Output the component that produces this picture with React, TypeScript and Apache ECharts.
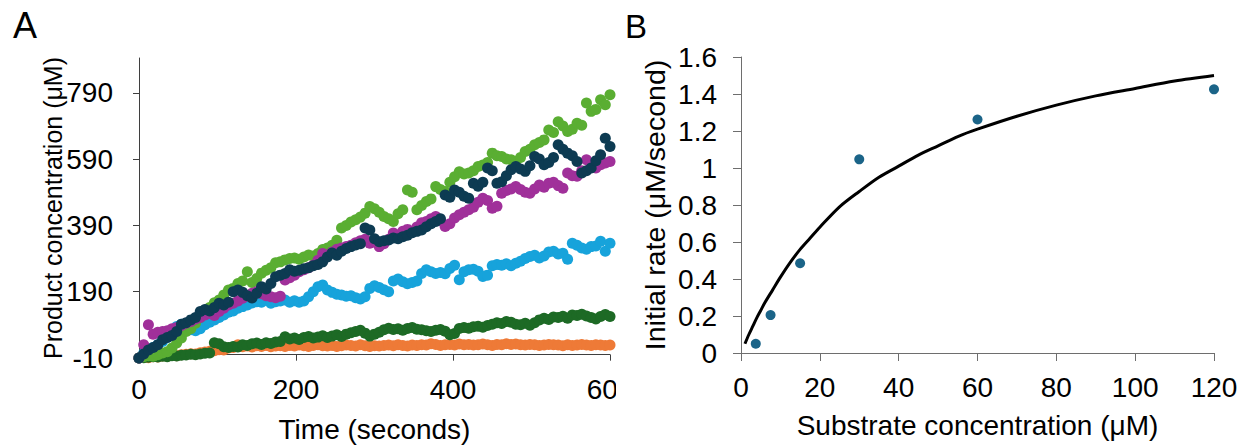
import React, { useEffect, useRef } from "react";
import * as echarts from "echarts";

// ---------- Panel A data (time in seconds, product in µM) ----------
const timeSeconds: number[] = Array.from({ length: 101 }, (_, i) => i * 6);

const orangeSeries = [
  -10, -8, -9, -6, -7, -4, -5, -2, -3, 0,
  1, 3, 2, 6, 8, 10, 12, 15, 14, 20,
  22, 30, 24, 26, 23, 27, 25, 28, 24, 26,
  27, 25, 28, 26, 29, 27, 25, 28, 30, 27,
  26, 28, 25, 27, 29, 28, 26, 30, 27, 25,
  27, 26, 28, 29, 27, 30, 28, 26, 29, 28,
  30, 29, 33, 31, 28, 30, 31, 29, 32, 30,
  31, 29, 30, 32, 30, 28, 31, 30, 33, 31,
  32, 30, 29, 31, 30, 28, 29, 31, 30, 29,
  27, 30, 28, 29, 31, 29, 28, 30, 29, 28,
  29,
];

const darkGreenSeries = [
  -10, -9, -8, -6, -7, -5, -6, -3, -4, -2,
  -1, 1, 0, 2, 4, 5, 36, 33, 24, 22,
  25, 23, 30, 28, 33, 35, 31, 36, 34, 38,
  40, 54, 47, 50, 46, 52, 55, 50, 53, 57,
  52, 56, 60, 55, 62, 66, 70, 74, 65, 56,
  62, 68, 75, 80, 76, 78, 74, 79, 82, 77,
  75, 72, 70, 74, 76, 71, 60, 64, 79, 82,
  80, 84, 86, 83, 88, 92, 96, 94, 100, 98,
  92, 90, 95, 89, 96, 105, 110, 106, 114, 112,
  116, 110, 120, 118, 122, 117, 112, 108, 115, 121,
  115,
];

const cyanSeries = [
  -10, 4, 12, 22, 30, 40, 52, 70, 85, 92,
  80, 75, 72, 78, 90, 98, 105, 112, 120, 128,
  132, 140, 145, 150, 156, 160, 158, 164, 155, 160,
  162, 165, 158, 163, 158, 162, 175, 190, 205, 210,
  195, 188, 182, 180, 176, 178, 172, 168, 175, 200,
  208, 203, 196, 190, 222, 228, 220, 214, 218, 222,
  245, 256, 250, 245, 248, 244, 260, 270, 226, 250,
  256, 258, 252, 236, 240, 268, 272, 270, 274, 268,
  276, 282, 290, 296, 300, 292, 298, 310, 312, 304,
  306, 288, 336, 330, 322, 318, 326, 328, 342, 312,
  336,
];

const purpleSeries = [
  -10, 30, 90, 62, 68, 70, 72, 78, 82, 88,
  95, 100, 108, 112, 120, 125, 118, 130, 140, 150,
  155, 162, 170, 178, 185, 190, 184, 178, 175, 172,
  176, 225, 232, 240, 250, 256, 262, 270, 285, 305,
  300, 310, 318, 322, 326, 330, 338, 344, 348, 336,
  340, 326, 335, 348, 367, 360, 372, 378, 370, 385,
  398, 402, 410, 417, 405, 387, 395, 412, 422, 430,
  437, 445, 460, 472, 465, 442, 448, 487, 495, 500,
  507, 498, 490, 487, 500, 512, 505, 517, 520, 510,
  502, 548, 540, 538, 555, 588, 570, 563, 573, 578,
  583,
];

const navySeries = [
  -10, 2, 14, 22, 30, 45, 52, 58, 70, 92,
  96, 105, 112, 130, 136, 132, 142, 155, 150, 158,
  190, 195, 188, 178, 171, 185, 205, 198, 215, 235,
  240, 245, 256, 252, 255, 259, 262, 268, 272, 280,
  295, 307, 300, 312, 320, 326, 331, 335, 382, 376,
  350, 341, 344, 346, 352, 350, 356, 360, 368, 372,
  376, 386, 395, 402, 410, 482, 475, 497, 490, 478,
  472, 517, 508, 520, 563, 555, 517, 522, 540, 558,
  568, 560, 553, 570, 598, 590, 573, 580, 595, 633,
  620, 608, 600, 583, 548, 555, 563, 585, 603, 653,
  628,
];

const greenSeries = [
  -10, -6, -3, -5, 0, 5, 9, 20, 35, 50,
  70, 78, 95, 112, 130, 142, 157, 165, 180, 195,
  200, 215, 222, 250, 218, 230, 246, 255, 262, 277,
  280, 286, 290, 292, 288, 295, 301, 298, 305, 317,
  322, 330, 345, 382, 390, 400, 407, 415, 427, 447,
  440, 430, 417, 410, 402, 425, 437, 497, 490, 437,
  450, 462, 470, 507, 498, 492, 520, 537, 552, 545,
  548, 555, 568, 572, 580, 608, 600, 598, 590, 588,
  583, 595, 613, 620, 633, 640, 648, 678, 670, 703,
  690, 673, 680, 698, 692, 759, 734, 740, 769, 754,
  784,
];

const yTicksA = [-10, 190, 390, 590, 790];

// ---------- Panel B data ----------
const substrateConc = [3.75, 7.5, 15, 30, 60, 120];
const initialRate = [0.05, 0.205, 0.485, 1.047, 1.262, 1.425];

const fitX = [1, 2, 3, 4, 5, 6, 8, 10, 12.5, 15, 17.5, 20, 25, 30, 35, 40, 45, 50, 55, 60, 70, 80, 90, 100, 110, 120];
const fitY = [0.05, 0.1, 0.145, 0.19, 0.23, 0.27, 0.34, 0.41, 0.49, 0.56, 0.62, 0.68, 0.79, 0.873, 0.95, 1.01, 1.07, 1.12, 1.17, 1.21, 1.28, 1.34, 1.39, 1.43, 1.47, 1.5];

const FONT = "'Liberation Sans', Arial, Helvetica, sans-serif";

const pair = (xs: number[], ys: number[]) => xs.map((x, i) => [x, ys[i]]);

function PanelA() {
  const ref = useRef<HTMLDivElement>(null);
  useEffect(() => {
    if (!ref.current) return;
    const chart = echarts.init(ref.current, undefined, { renderer: "svg" });
    const axisColor = "#3f3f3f";
    const mk = (name: string, data: number[], color: string) => ({
      type: "scatter",
      name,
      data: pair(timeSeconds, data),
      symbolSize: 11,
      itemStyle: { color, opacity: 1 },
      silent: true,
    });
    chart.setOption({
      animation: false,
      backgroundColor: "#ffffff",
      graphic: [
        {
          type: "text",
          left: 13,
          top: 7,
          style: { text: "A", fontSize: 36, fontFamily: FONT, fill: "#000" },
        },
      ],
      grid: { left: 139, right: 6, top: 58, bottom: 88, outerBoundsMode: "none", containLabel: false },
      xAxis: {
        type: "value",
        min: 0,
        max: 600,
        interval: 200,
        name: "Time (seconds)",
        nameLocation: "middle",
        nameGap: 57,
        nameMoveOverlap: false,
        nameTextStyle: { fontSize: 28, fontFamily: FONT, color: "#000" },
        axisLine: { show: true, lineStyle: { color: axisColor, width: 1 } },
        axisTick: { show: true, length: 6, lineStyle: { color: axisColor } },
        axisLabel: { fontSize: 28, fontFamily: FONT, color: "#000", margin: 17, hideOverlap: false },
        splitLine: { show: false },
      },
      yAxis: {
        type: "value",
        min: -10,
        max: 895,
        name: "Product concentration (μM)",
        nameLocation: "middle",
        nameGap: 74,
        nameMoveOverlap: false,
        nameTextStyle: { fontSize: 25, fontFamily: FONT, color: "#000" },
        axisLine: { show: true, lineStyle: { color: axisColor, width: 1 } },
        axisTick: { show: true, length: 6, customValues: yTicksA, lineStyle: { color: axisColor } },
        axisLabel: { fontSize: 28, fontFamily: FONT, color: "#000", margin: 26, customValues: yTicksA },
        splitLine: { show: false },
      },
      series: [
        mk("orange", orangeSeries, "#EE7A37"),
        mk("darkgreen", darkGreenSeries, "#1D6A25"),
        mk("cyan", cyanSeries, "#17A3DB"),
        mk("green", greenSeries, "#5AAE32"),
        mk("purple", purpleSeries, "#A0309A"),
        mk("navy", navySeries, "#0D3B52"),
      ],
    });
    return () => chart.dispose();
  }, []);
  return <div ref={ref} style={{ position: "absolute", left: 0, top: 0, width: 616, height: 446 }} />;
}

function PanelB() {
  const ref = useRef<HTMLDivElement>(null);
  useEffect(() => {
    if (!ref.current) return;
    const chart = echarts.init(ref.current, undefined, { renderer: "svg" });
    const axisColor = "#6e6e6e";
    chart.setOption({
      animation: false,
      backgroundColor: "#ffffff",
      graphic: [
        {
          type: "text",
          left: 9,
          top: 10,
          style: { text: "B", fontSize: 33, fontFamily: FONT, fill: "#000" },
        },
      ],
      grid: { left: 125, right: 38, top: 57, bottom: 93, outerBoundsMode: "none", containLabel: false },
      xAxis: {
        type: "value",
        min: 0,
        max: 120,
        interval: 20,
        name: "Substrate concentration (μM)",
        nameLocation: "middle",
        nameGap: 58,
        nameMoveOverlap: false,
        nameTextStyle: { fontSize: 28, fontFamily: FONT, color: "#000" },
        axisLine: { show: true, lineStyle: { color: axisColor, width: 1 } },
        axisTick: { show: true, length: 8, lineStyle: { color: axisColor } },
        axisLabel: { fontSize: 28, fontFamily: FONT, color: "#000", margin: 20 },
        splitLine: { show: false },
      },
      yAxis: {
        type: "value",
        min: 0,
        max: 1.6,
        interval: 0.2,
        name: "Initial rate (μM/second)",
        nameLocation: "middle",
        nameGap: 72,
        nameMoveOverlap: false,
        nameTextStyle: { fontSize: 28.5, fontFamily: FONT, color: "#000" },
        axisLine: { show: true, lineStyle: { color: axisColor, width: 1 } },
        axisTick: { show: true, length: 8, lineStyle: { color: axisColor } },
        axisLabel: { fontSize: 28, fontFamily: FONT, color: "#000", margin: 24 },
        splitLine: { show: false },
      },
      series: [
        {
          type: "line",
          name: "fit",
          data: pair(fitX, fitY),
          smooth: 0.3,
          showSymbol: false,
          lineStyle: { color: "#000", width: 3 },
          silent: true,
        },
        {
          type: "scatter",
          name: "rate",
          data: pair(substrateConc, initialRate),
          symbolSize: 10,
          itemStyle: { color: "#1B6488", opacity: 1 },
          silent: true,
        },
      ],
    });
    return () => chart.dispose();
  }, []);
  return <div ref={ref} style={{ position: "absolute", left: 616, top: 0, width: 636, height: 446 }} />;
}

export default function App() {
  return (
    <div style={{ position: "absolute", left: 0, top: 0, width: 1252, height: 446, background: "#fff", overflow: "hidden" }}>
      <PanelA />
      <PanelB />
    </div>
  );
}
